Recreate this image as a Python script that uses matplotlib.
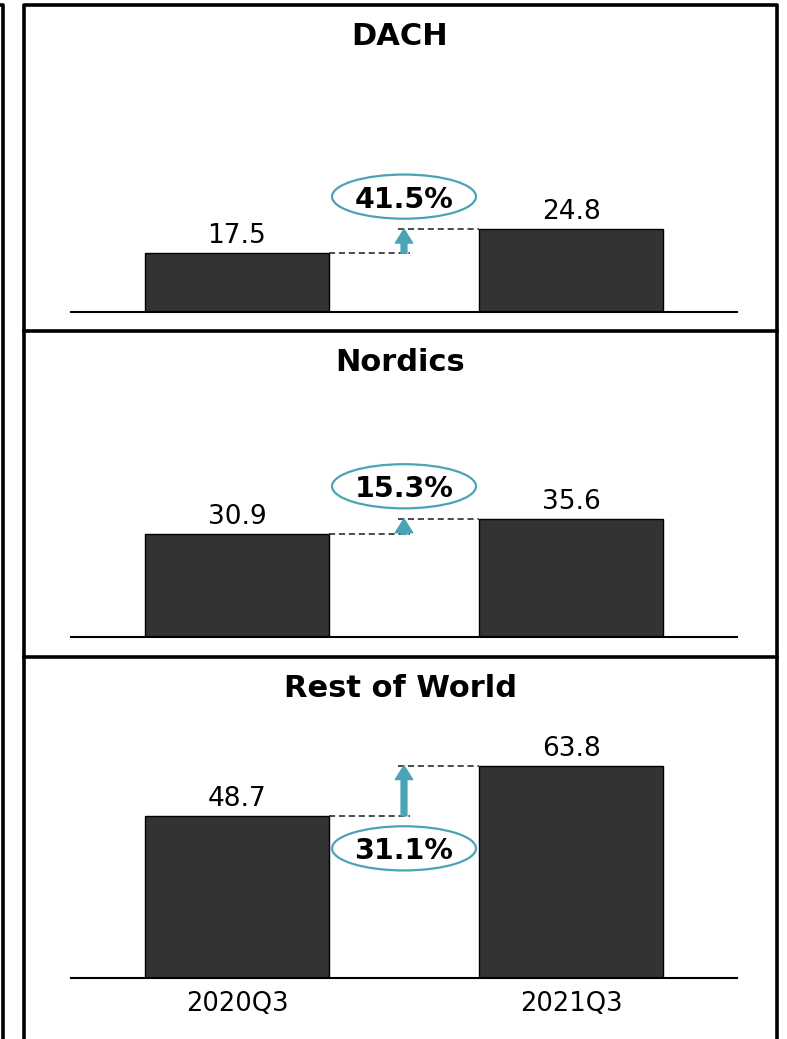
import matplotlib.pyplot as plt
from matplotlib.lines import Line2D
from matplotlib.patches import Ellipse

regions = ['DACH', 'Nordics', 'Rest of World']
periods = ['2020Q3', '2021Q3']
q3_2020 = [17.5, 30.9, 48.7]
q3_2021 = [24.8, 35.6, 63.8]
growth = ['41.5%', '15.3%', '31.1%']
label_side = ['above', 'above', 'below']

W, H = 787, 1039
BAR = '#333333'
TEAL = '#4ba3b6'
PX_PER_UNIT = 3.32


def fx(x):
    return x / W


def fy(y):
    return 1 - y / H


fig = plt.figure(figsize=(W / 100, H / 100), dpi=100)
plt.rcParams['font.family'] = ['DejaVu Sans']

# panel frames
panel_tops = [5, 331, 657]
baselines = [311.5, 637, 977.5]
frame_lw = 2.6
fig.add_artist(Line2D([fx(-10), fx(2.5), fx(2.5)], [fy(5), fy(5), fy(1060)],
                      transform=fig.transFigure, color='black', lw=frame_lw))
fig.add_artist(Line2D([fx(24), fx(24), fx(777), fx(777)], [fy(1060), fy(5), fy(5), fy(1060)],
                      transform=fig.transFigure, color='black', lw=frame_lw))
for y in panel_tops[1:]:
    fig.add_artist(Line2D([fx(24), fx(777)], [fy(y), fy(y)],
                          transform=fig.transFigure, color='black', lw=frame_lw))

x = [0, 1]
for i, region in enumerate(regions):
    top, base = panel_tops[i], baselines[i]
    ax = fig.add_axes([fx(71), fy(base), (737 - 71) / W, (base - top) / H])
    ax.set_xlim(-0.497, 1.497)
    ax.set_ylim(0, (base - top) / PX_PER_UNIT)
    ax.patch.set_alpha(0)
    for s in ['top', 'left', 'right']:
        ax.spines[s].set_visible(False)
    ax.spines['bottom'].set_linewidth(1.5)
    ax.set_yticks([])

    v1, v2 = q3_2020[i], q3_2021[i]
    ax.bar(x, [v1, v2], width=0.551, color=BAR, edgecolor='black', linewidth=1, zorder=2)
    for xi, v in zip(x, [v1, v2]):
        ax.annotate(f'{v}', (xi, v), xytext=(0, 3), textcoords='offset points',
                    ha='center', va='bottom', fontsize=19)

    # dashed connectors
    ax.plot([0.2755, 0.518], [v1, v1], ls=(0, (4, 2.5)), color='#1a1a1a', lw=1.1)
    ax.plot([0.482, 0.7245], [v2, v2], ls=(0, (4, 2.5)), color='#1a1a1a', lw=1.1)
    ax.annotate('', xy=(0.5, v2), xytext=(0.5, v1),
                arrowprops=dict(arrowstyle='simple,head_length=10,head_width=12.5,tail_width=4.2',
                                mutation_scale=1, color=TEAL, shrinkA=0, shrinkB=0))

    cy = max(v1, v2) + 9.8 if label_side[i] == 'above' else min(v1, v2) - 9.8
    ax.add_patch(Ellipse((0.5, cy), 0.431, 13.3, facecolor='white', edgecolor=TEAL,
                         lw=1.6, zorder=3))
    ax.text(0.5, cy, growth[i], ha='center', va='center_baseline', fontsize=20.5,
            fontweight='bold', zorder=4)

    fig.text(fx(400), fy(top + 40), region, ha='center', va='baseline',
             fontsize=22, fontweight='bold')

    if i == len(regions) - 1:
        ax.set_xticks(x, periods, fontsize=18.5)
        ax.tick_params(axis='x', length=0, pad=10)
    else:
        ax.set_xticks([])

plt.savefig('out.png', dpi=100)
plt.close(fig)
